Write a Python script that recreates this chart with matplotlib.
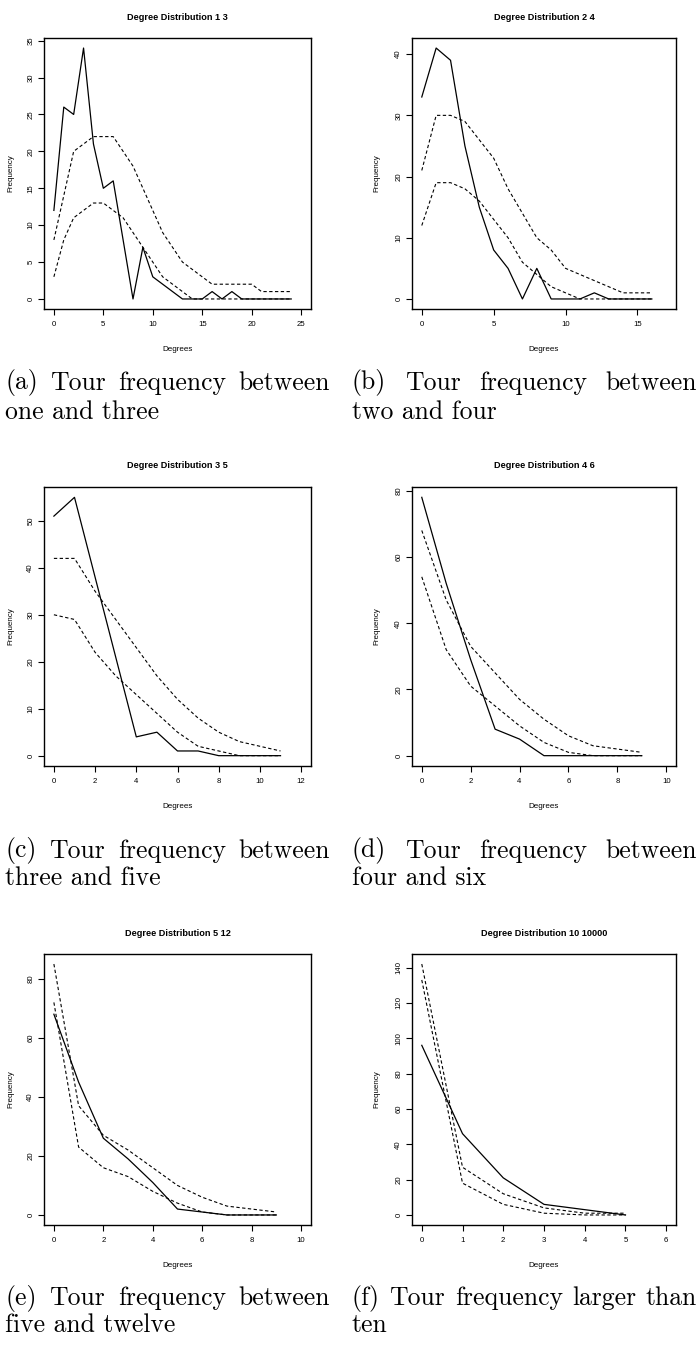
import matplotlib
matplotlib.use('Agg')
import matplotlib.pyplot as plt
from matplotlib.ticker import MultipleLocator

W, H = 699, 1345

# degree distributions: observed (solid) and the two simulated bounds (dashed)
obs_13 = [12, 26, 25, 34, 21, 15, 16, 8, 0, 7, 3, 2, 1, 0, 0, 0, 1, 0, 1, 0, 0, 0, 0, 0, 0]
hi_13 = [8, 14, 20, 21, 22, 22, 22, 20, 18, 15, 12, 9, 7, 5, 4, 3, 2, 2, 2, 2, 2, 1, 1, 1, 1]
lo_13 = [3, 8, 11, 12, 13, 13, 12, 11, 9, 7, 5, 3, 2, 1, 0, 0, 0, 0, 0, 0, 0, 0, 0, 0, 0]

obs_24 = [33, 41, 39, 25, 15, 8, 5, 0, 5, 0, 0, 0, 1, 0, 0, 0, 0]
hi_24 = [21, 30, 30, 29, 26, 23, 18, 14, 10, 8, 5, 4, 3, 2, 1, 1, 1]
lo_24 = [12, 19, 19, 18, 16, 13, 10, 6, 4, 2, 1, 0, 0, 0, 0, 0, 0]

obs_35 = [51, 55, 38, 21, 4, 5, 1, 1, 0, 0, 0, 0]
hi_35 = [42, 42, 35, 29, 23, 17, 12, 8, 5, 3, 2, 1]
lo_35 = [30, 29, 22, 17, 13, 9, 5, 2, 1, 0, 0, 0]

obs_46 = [78, 52, 29, 8, 5, 0, 0, 0, 0, 0]
hi_46 = [68, 47, 33, 25, 17, 11, 6, 3, 2, 1]
lo_46 = [54, 32, 21, 15, 9, 4, 1, 0, 0, 0]

obs_512 = [68, 45, 26, 19, 11, 2, 1, 0, 0, 0]
hi_512 = [85, 37, 27, 22, 16, 10, 6, 3, 2, 1]
lo_512 = [72, 23, 16, 13, 8, 4, 1, 0, 0, 0]

obs_10 = [96, 46, 21, 6, 3, 0]
hi_10 = [142, 27, 12, 4, 1, 1]
lo_10 = [133, 18, 6, 1, 0, 0]

titles = ['Degree Distribution 1 3', 'Degree Distribution 2 4', 'Degree Distribution 3 5',
          'Degree Distribution 4 6', 'Degree Distribution 5 12', 'Degree Distribution 10 10000']
captions = [('(a) Tour frequency between', 'one and three'),
            ('(b) Tour frequency between', 'two and four'),
            ('(c) Tour frequency between', 'three and five'),
            ('(d) Tour frequency between', 'four and six'),
            ('(e) Tour frequency between', 'five and twelve'),
            ('(f) Tour frequency larger than', 'ten')]
series = [(obs_13, hi_13, lo_13), (obs_24, hi_24, lo_24), (obs_35, hi_35, lo_35),
          (obs_46, hi_46, lo_46), (obs_512, hi_512, lo_512), (obs_10, hi_10, lo_10)]
xsteps = [5, 5, 2, 2, 2, 1]
ysteps = [5, 10, 10, 20, 20, 20]

# layout in pixels: (left, right) per column, (top, bottom) per row
cols = [(44, 311), (412, 676)]
rows = [(38, 309), (487, 766), (954, 1225)]
cap_cols = [(5, 330), (352, 697)]
cap_rows = [(383, 412), (851, 878), (1298, 1325)]

sans = 'Liberation Sans'
fig = plt.figure(figsize=(W / 100, H / 100), dpi=100)
renderer = fig.canvas.get_renderer()


def justify(words, x0, x1, y, **kw):
    txts = [fig.text(0, y / H, w, **kw) for w in words]
    widths = [t.get_window_extent(renderer).width for t in txts]
    gap = ((x1 - x0) - sum(widths)) / (len(words) - 1)
    x = x0
    for t, w in zip(txts, widths):
        t.set_x(x / W)
        x += w + gap


for i in range(6):
    r, c = divmod(i, 2)
    l, rr = cols[c]
    t, b = rows[r]
    ax = fig.add_axes([l / W, 1 - b / H, (rr - l) / W, (b - t) / H])
    obs, hi, lo = series[i]
    x = list(range(len(obs)))
    ax.plot(x, obs, color='black', lw=0.9)
    ax.plot(x, hi, color='black', lw=0.8, ls=(0, (3, 2.2)))
    ax.plot(x, lo, color='black', lw=0.8, ls=(0, (3, 2.2)))
    xmax = len(obs)
    ymax = max(max(obs), max(hi), max(lo))
    ax.set_xlim(-0.04 * xmax, 1.04 * xmax)
    ax.set_ylim(-0.04 * ymax, 1.04 * ymax)
    ax.xaxis.set_major_locator(MultipleLocator(xsteps[i]))
    ax.yaxis.set_major_locator(MultipleLocator(ysteps[i]))
    ax.set_xticks([v for v in ax.get_xticks() if 0 <= v <= 1.04 * xmax])
    ax.set_yticks([v for v in ax.get_yticks() if 0 <= v <= 1.04 * ymax])
    ax.tick_params(direction='out', length=4.5, width=0.8, labelsize=5.6, pad=4)
    ax.tick_params(axis='y', labelrotation=90, pad=2.5)
    for lab in ax.get_yticklabels():
        lab.set_va('center')
        lab.set_family(sans)
    for lab in ax.get_xticklabels():
        lab.set_family(sans)
    for s in ax.spines.values():
        s.set_linewidth(1.0)
    ax.set_xlabel('Degrees', fontsize=5.8, family=sans)
    ax.set_ylabel('Frequency', fontsize=5.8, family=sans)
    ax.xaxis.set_label_coords(0.5, -37 / (b - t))
    ax.yaxis.set_label_coords((14 + 366 * c - l) / (rr - l), 0.5)
    fig.text((l + rr) / 2 / W, 1 - (t - 21) / H, titles[i], ha='center', va='center',
             fontsize=6.6, fontweight='bold', family=sans)
    x0, x1 = cap_cols[c]
    y1, y2 = cap_rows[r]
    justify(captions[i][0].split(' '), x0, x1, H - y1, va='center', fontsize=18.5, family='cmr10')
    fig.text(x0 / W, 1 - y2 / H, captions[i][1], va='center', fontsize=18.5, family='cmr10')

fig.savefig('out.png', dpi=100)
